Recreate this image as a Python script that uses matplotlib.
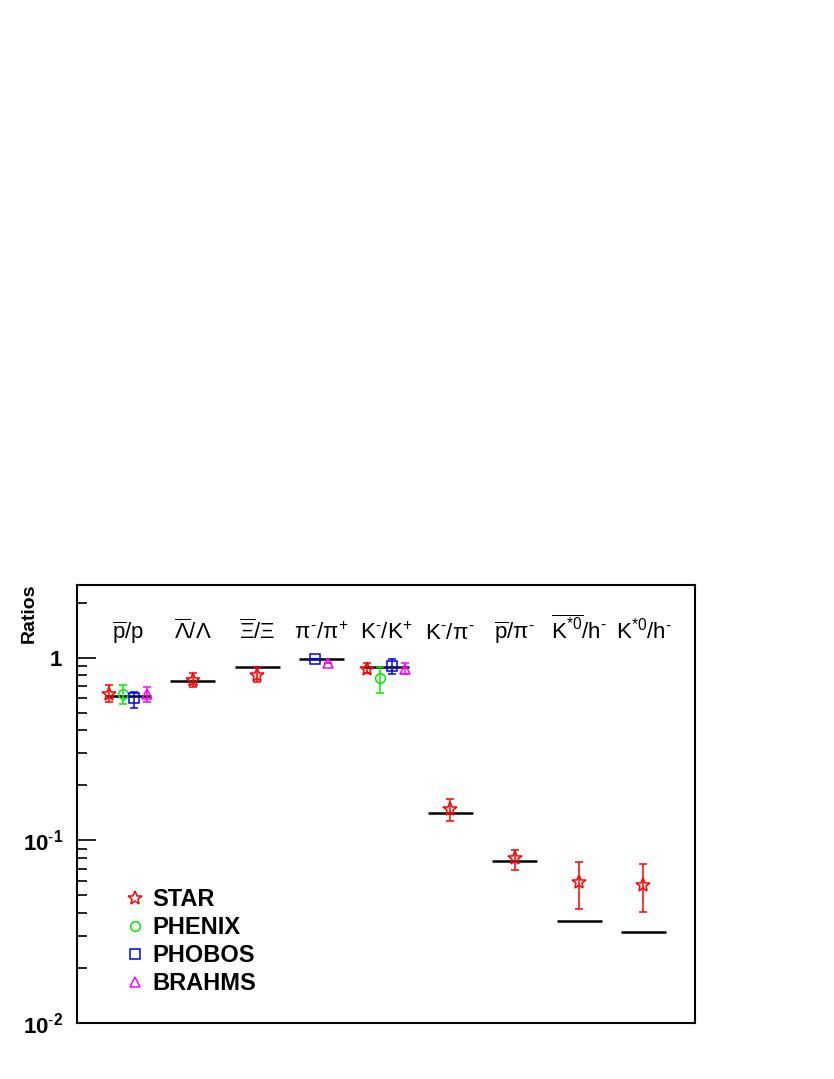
import numpy as np
import matplotlib
matplotlib.use("Agg")
import matplotlib.pyplot as plt
from matplotlib.lines import Line2D
from matplotlib.ticker import FixedLocator, FixedFormatter, LogLocator, NullFormatter

plt.rcParams['font.family'] = ['Liberation Sans', 'DejaVu Sans']
plt.rcParams['mathtext.fontset'] = 'custom'
plt.rcParams['mathtext.rm'] = 'Liberation Sans'
plt.rcParams['mathtext.it'] = 'Liberation Sans'
plt.rcParams['mathtext.bf'] = 'Liberation Sans:bold'

# ratio labels, one per column
categories = [r'$\overline{\rm p}$/p', r'$\overline{\Lambda}/\Lambda$', r'$\overline{\Xi}/\Xi$',
              r'$\pi^{\text{-}}/\pi^{+}$', r'K$^{\text{-}}$/K$^{+}$', r'K$^{\text{-}}$/$\pi^{\text{-}}$',
              r'$\overline{\rm p}/\pi^{\text{-}}$', r'$\overline{{\rm K}^{*0}}$/h$^{\text{-}}$',
              r'K$^{*0}$/h$^{\text{-}}$']

# model (black lines)
model = [0.62, 0.743, 0.885, 0.99, 0.89, 0.142, 0.077, 0.036, 0.0314]

# experiments: column index, value, lower edge, upper edge
star_idx = [0, 1, 2, 4, 5, 6, 7, 8]
star_val = [0.636, 0.758, 0.804, 0.87, 0.148, 0.0797, 0.059, 0.0568]
star_lo = [0.575, 0.688, 0.733, 0.82, 0.127, 0.069, 0.042, 0.0405]
star_hi = [0.711, 0.825, 0.885, 0.93, 0.168, 0.089, 0.076, 0.074]

phenix_idx = [0, 4]
phenix_val = [0.635, 0.77]
phenix_lo = [0.56, 0.64]
phenix_hi = [0.71, 0.89]

phobos_idx = [0, 3, 4]
phobos_val = [0.60, 0.99, 0.905]
phobos_lo = [0.53, 0.99, 0.81]
phobos_hi = [0.65, 0.99, 0.99]

brahms_idx = [0, 3, 4]
brahms_val = [0.63, 0.94, 0.87]
brahms_lo = [0.57, 0.94, 0.81]
brahms_hi = [0.69, 0.94, 0.94]

fig = plt.figure(figsize=(8.34, 10.79), dpi=100)
ax = fig.add_axes([0.0923, 0.0519, 0.7410, 0.4059])

xc = np.arange(1, len(categories) + 1)
ax.hlines(model, xc - 0.35, xc + 0.35, color='black', lw=1.8, zorder=2)

def draw(idx, val, lo, hi, offsets, color, marker, ms, label):
    x = xc[idx] + np.array(offsets)
    val = np.array(val)
    yerr = [val - np.array(lo), np.array(hi) - val]
    ax.errorbar(x, val, yerr=yerr, fmt=marker, color=color, mfc='none', mec=color,
                ms=ms, mew=1.1, elinewidth=1.1, capsize=3, capthick=1.1, zorder=3)
    return Line2D([], [], ls='none', marker=marker, color=color, mfc='none', ms=ms, mew=1.1, label=label)

star_off = [-0.3 if i in (0, 4) else 0.0 for i in star_idx]
h1 = draw(star_idx, star_val, star_lo, star_hi, star_off, '#ff0000', '*', 10, 'STAR')
h2 = draw(phenix_idx, phenix_val, phenix_lo, phenix_hi, [-0.09, -0.09], '#00ee00', 'o', 7, 'PHENIX')
h3 = draw(phobos_idx, phobos_val, phobos_lo, phobos_hi, [0.09, -0.1, 0.1], '#0000ff', 's', 6.5, 'PHOBOS')
h4 = draw(brahms_idx, brahms_val, brahms_lo, brahms_hi, [0.28, 0.1, 0.3], '#ff00ff', '^', 7, 'BRAHMS')

for x, lab in zip(xc, categories):
    ax.text(x, 1.27, lab, ha='center', va='baseline', fontsize=16)

ax.set_yscale('log')
ax.set_ylim(0.01, 2.5)
ax.set_xlim(0.2, 9.8)
ax.set_xticks([])
ax.yaxis.set_major_locator(FixedLocator([0.01, 0.1, 1]))
ax.yaxis.set_major_formatter(FixedFormatter([r'$\mathbf{10^{\text{-}2}}$', r'$\mathbf{10^{\text{-}1}}$',
                                             r'$\mathbf{1}$']))
ax.yaxis.set_minor_locator(LogLocator(base=10, subs=np.arange(2, 10)))
ax.yaxis.set_minor_formatter(NullFormatter())
ax.tick_params(axis='y', which='major', direction='in', length=14, width=1.2, labelsize=16, pad=10)
ax.tick_params(axis='y', which='minor', direction='in', length=7, width=1.2)
for sp in ax.spines.values():
    sp.set_linewidth(1.5)

fig.text(0.035, 0.4595, 'Ratios', rotation=90, ha='center', va='top', fontsize=14, fontweight='bold')

ax.legend(handles=[h1, h2, h3, h4], loc='upper left', bbox_to_anchor=(0.055, 0.335),
          frameon=False, prop={'weight': 'bold', 'size': 17}, handlelength=1.0,
          handletextpad=0.25, labelspacing=0.21, borderpad=0)

fig.savefig('out.png', dpi=100)
